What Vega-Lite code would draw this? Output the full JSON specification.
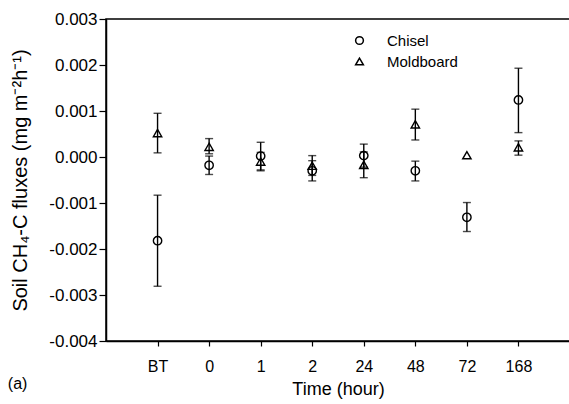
{
  "$schema": "https://vega.github.io/schema/vega-lite/v6.json",
  "width": 464,
  "height": 322,
  "autosize": {"type": "none"},
  "padding": {"left": 106, "top": 19, "right": 0, "bottom": 63},
  "background": "white",
  "config": {
    "font": "Liberation Sans",
    "view": {"stroke": "black", "strokeWidth": 1.5},
    "axis": {"grid": false, "domainColor": "black", "domainWidth": 1.5, "tickColor": "black", "tickWidth": 1.2, "labelColor": "black", "titleColor": "black", "labelFont": "Liberation Sans", "titleFont": "Liberation Sans", "titleFontWeight": "normal"}
  },
  "title": {"text": "(a)", "orient": "bottom", "anchor": "start", "frame": "bounds", "fontSize": 16, "fontWeight": "normal", "font": "Liberation Sans", "color": "black", "offset": -22, "dx": -3},
  "data": {
    "values": [
      {"time": "BT", "tillage": "Chisel", "flux": -0.00182, "lo": -0.00281, "hi": -0.00083},
      {"time": "BT", "tillage": "Moldboard", "flux": 0.00052, "lo": 0.00009, "hi": 0.00095},
      {"time": "0", "tillage": "Chisel", "flux": -0.00018, "lo": -0.00038, "hi": 0.00002},
      {"time": "0", "tillage": "Moldboard", "flux": 0.00022, "lo": 0.00007, "hi": 0.0004},
      {"time": "1", "tillage": "Chisel", "flux": 0.00002, "lo": -0.00028, "hi": 0.00032},
      {"time": "1", "tillage": "Moldboard", "flux": -0.0001, "lo": -0.0003, "hi": 0.0001},
      {"time": "2", "tillage": "Chisel", "flux": -0.0003, "lo": -0.00052, "hi": -0.00008},
      {"time": "2", "tillage": "Moldboard", "flux": -0.00019, "lo": -0.0004, "hi": 0.00003},
      {"time": "24", "tillage": "Chisel", "flux": 0.00003, "lo": -0.00022, "hi": 0.00028},
      {"time": "24", "tillage": "Moldboard", "flux": -0.00017, "lo": -0.00045, "hi": 0.00011},
      {"time": "48", "tillage": "Chisel", "flux": -0.0003, "lo": -0.00052, "hi": -0.00009},
      {"time": "48", "tillage": "Moldboard", "flux": 0.00071, "lo": 0.00037, "hi": 0.00104},
      {"time": "72", "tillage": "Chisel", "flux": -0.00131, "lo": -0.00162, "hi": -0.00099},
      {"time": "72", "tillage": "Moldboard", "flux": 0.00004, "lo": null, "hi": null},
      {"time": "168", "tillage": "Chisel", "flux": 0.00124, "lo": 0.00053, "hi": 0.00193},
      {"time": "168", "tillage": "Moldboard", "flux": 0.00021, "lo": 0.00004, "hi": 0.00035}
    ]
  },
  "encoding": {
    "x": {
      "field": "time", "type": "ordinal",
      "scale": {"type": "point", "domain": ["BT", "0", "1", "2", "24", "48", "72", "168"], "padding": 1},
      "axis": {"title": "Time (hour)", "labelAngle": 0, "labelFontSize": 16, "titleFontSize": 18, "tickSize": 5, "labelPadding": 12, "titlePadding": 6}
    }
  },
  "layer": [
    {
      "mark": {"type": "rule", "color": "black", "strokeWidth": 1.4},
      "encoding": {
        "y": {"field": "lo", "type": "quantitative"},
        "y2": {"field": "hi"}
      }
    },
    {
      "mark": {"type": "tick", "color": "black", "size": 8, "thickness": 1.4},
      "encoding": {"y": {"field": "lo", "type": "quantitative"}}
    },
    {
      "mark": {"type": "tick", "color": "black", "size": 8, "thickness": 1.4},
      "encoding": {"y": {"field": "hi", "type": "quantitative"}}
    },
    {
      "mark": {"type": "point", "filled": false, "stroke": "black", "strokeWidth": 1.4, "size": 70, "opacity": 1},
      "encoding": {
        "y": {
          "field": "flux", "type": "quantitative",
          "scale": {"domain": [-0.004, 0.003], "nice": false, "zero": false},
          "axis": {
            "title": "Soil CH₄-C fluxes (mg m⁻²h⁻¹)",
            "values": [-0.004, -0.003, -0.002, -0.001, 0, 0.001, 0.002, 0.003],
            "labelExpr": "replace(format(datum.value, '.3f'), '−', '-')",
            "labelFontSize": 17, "titleFontSize": 20, "tickSize": 7, "labelPadding": 2, "titlePadding": 18
          }
        },
        "shape": {
          "field": "tillage", "type": "nominal",
          "scale": {"domain": ["Chisel", "Moldboard"], "range": ["circle", "triangle-up"]},
          "legend": {
            "title": null, "orient": "none", "legendX": 246, "legendY": 14,
            "labelFontSize": 15, "labelColor": "black", "labelFont": "Liberation Sans",
            "symbolStrokeColor": "black", "symbolFillColor": "transparent", "symbolStrokeWidth": 1.5, "symbolSize": 60,
            "labelOffset": 20, "rowPadding": 5
          }
        }
      }
    }
  ]
}
